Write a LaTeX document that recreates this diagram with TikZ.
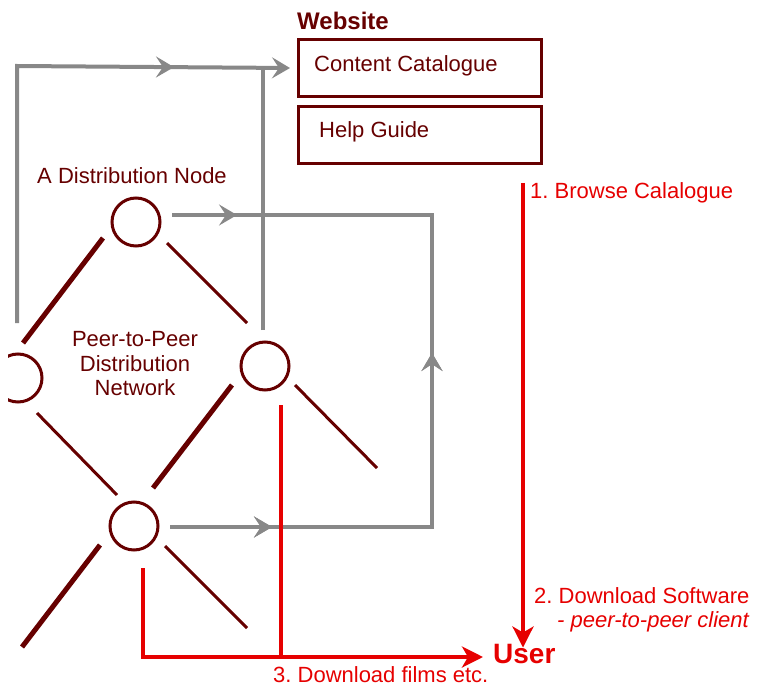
\documentclass[tikz,border=0pt]{standalone}
\usepackage{fontspec}
\setmainfont{Liberation Sans}
\usetikzlibrary{positioning,
        arrows.meta,
        calc,
        decorations.markings}
\usepackage{xcolor}
\definecolor{netred}{RGB}{102,0,0}
\definecolor{flowred}{RGB}{230,0,0}
\definecolor{linkgray}{RGB}{136,136,136}
\frenchspacing
\tikzset{
  peer/.style={circle,draw=netred,line width=3pt,minimum size=48pt,inner sep=0pt},
  webbox/.style={draw=netred,line width=3pt,minimum width=243pt,minimum height=57pt,inner sep=0pt},
  thickedge/.style={draw=netred,line width=5pt},
  thinedge/.style={draw=netred,line width=3pt},
  grayline/.style={draw=linkgray,line width=4pt},
  redline/.style={draw=flowred,line width=4.5pt},
  grayhead/.tip={Stealth[length=18pt,width=21pt,inset=7pt]},
  redhead/.tip={Stealth[length=21pt,width=21pt,inset=6pt]},
  midarrow/.style={postaction={decorate},decoration={markings,mark=at position #1 with {\arrow{grayhead}}}},
  txt/.style={inner sep=0pt,font=\fontsize{22}{24.5}\selectfont}
}

\begin{document}
\begin{tikzpicture}[x=1pt,y=-1pt]
            \useasboundingbox (0,0) rectangle (760,687);
            \clip (8,0) rectangle (760,687);

            \node [txt,anchor=base west,text=netred,font=\fontsize{24}{26}\selectfont\bfseries] (website) at (297,30) {Website};
            \node [webbox] (catalogue) at (420,68) {};
            \node [webbox] (help) at (420,135) {};
            \node [txt,anchor=base west,text=netred] (cattext) at (314,72) {Content Catalogue};
            \node [txt,anchor=base west,text=netred] (helptext) at (319,138) {Help Guide};

            \node [peer] (top) at (136,222) {};
            \node [peer] (left) at (18,378) {};
            \node [peer] (right) at (265,366) {};
            \node [peer] (bottom) at (134,526) {};
            \node [txt,anchor=base,text=netred] (nodetext) at (132,184) {A Distribution Node};
            \node [txt,align=center,text=netred] (nettext) at (135,364) {Peer-to-Peer\\Distribution\\Network};

            \draw [thickedge] ($(top)+(-33,16)$) -- ($(left)+(5,-35)$);
            \draw [thinedge] ($(top)+(31,21)$) -- ($(right)+(-18,-43)$);
            \draw [thinedge] ($(left)+(19,35)$) -- ($(bottom)+(-17,-31)$);
            \draw [thickedge] ($(right)+(-33,19)$) -- ($(bottom)+(19,-38)$);
            \draw [thinedge] ($(right)+(30,19)$) -- ++(82,83);
            \draw [thickedge] ($(bottom)+(-34,19)$) -- ++(-78,102);
            \draw [thinedge] ($(bottom)+(31,20)$) -- ++(82,82);

            \coordinate (nw) at (17,66);
            \coordinate (join) at (263,66);
            \coordinate (ne) at (432,215);
            \coordinate (se) at (432,527);
            \draw [grayline,midarrow=414pt,-{grayhead}] ($(left)+(-1,-55)$) -- (nw) -- ([xshift=-7pt]catalogue.west);
            \draw [grayline] ($(right)+(-2,-36)$) -- (join);
            \draw [grayline,midarrow=65pt] ($(top)+(36,-7)$) -- ([xshift=2pt]ne);
            \draw [grayline,midarrow=102pt,midarrow=436pt] ($(bottom)+(36,1)$) -- (se) -- (ne);

            \node [txt,anchor=base west,text=flowred,font=\fontsize{28}{30}\selectfont\bfseries] (user) at (493,663) {User};
            \coordinate (browse) at (523,183);
            \coordinate (usertop) at ([yshift=-4pt]user.north);
            \coordinate (userleft) at ([xshift=-10pt]user.west);
            \coordinate (films) at (143,657);
            \draw [redline,-{redhead}] (browse) -- (browse |- usertop);
            \draw [redline,-{redhead}] ($(bottom)+(9,42)$) -- (films) -- (userleft |- films);
            \draw [redline] ($(right)+(16,39)$) -- (281,659);

            \node [txt,anchor=base west,text=flowred] (step1) at (530,199) {1. Browse Calalogue};
            \node [txt,anchor=base west,text=flowred] (step2) at (534,603) {2. Download Software};
            \node [txt,anchor=base west,text=flowred,font=\fontsize{22}{24.5}\selectfont\itshape] (client) at (557,627) {- peer-to-peer client};
            \node [txt,anchor=base west,text=flowred] (step3) at (273,682) {3. Download films etc.};
        \end{tikzpicture}
\end{document}
